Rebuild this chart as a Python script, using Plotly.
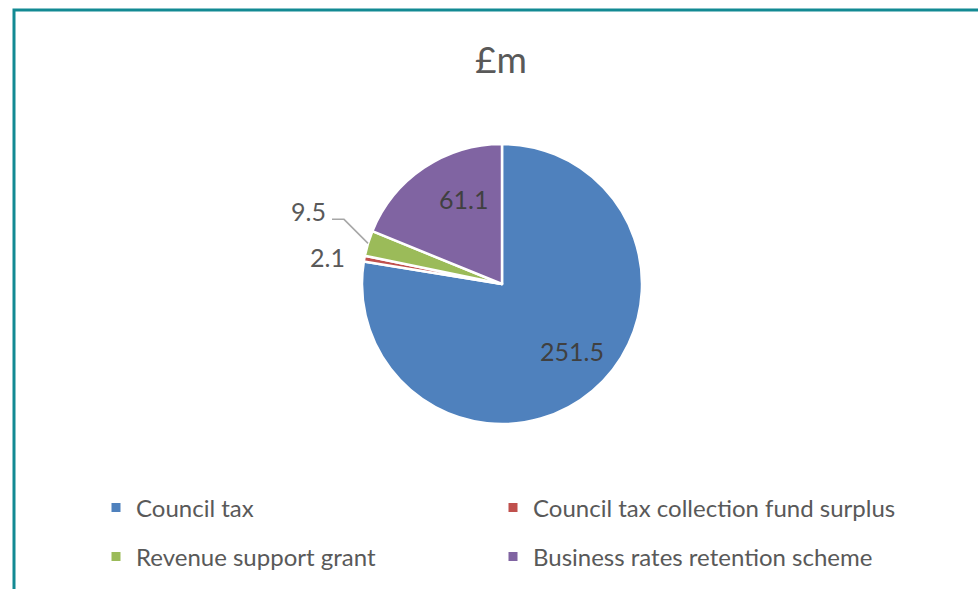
import math
import plotly.graph_objects as go

# Funding sources, £m
categories = [
    "Council tax",
    "Council tax collection fund surplus",
    "Revenue support grant",
    "Business rates retention scheme",
]
values = [251.5, 2.1, 9.5, 61.1]
labels = ["251.5", "2.1", "9.5", "61.1"]

colors = ["#4f81bd", "#c0504d", "#9bbb59", "#8064a2"]
TEXT = "#595959"
FONT = "Lato"

W, H = 978, 589
CX, CY, R = 502, 284, 140  # pie centre and radius in pixels


def to_paper(x, y):
    return x / W, 1 - y / H


def on_circle(angle_deg, r):
    a = math.radians(angle_deg)
    return CX + r * math.sin(a), CY - r * math.cos(a)


# mid angle of each slice, clockwise from 12 o'clock
total = sum(values)
mids = []
acc = 0.0
for v in values:
    mids.append((acc + v / 2) / total * 360)
    acc += v

x0, y1 = to_paper(CX - R, CY - R)
x1, y0 = to_paper(CX + R, CY + R)

fig = go.Figure()
fig.add_trace(go.Pie(
    labels=categories,
    values=values,
    sort=False,
    direction="clockwise",
    rotation=0,
    marker=dict(colors=colors, line=dict(color="white", width=2.5)),
    textinfo="none",
    hoverinfo="label+value",
    showlegend=False,
    domain=dict(x=[x0, x1], y=[y0, y1]),
))

annotations = []
shapes = []

# labels inside the two large slices
inside = {0: (0.68, 8, -6), 3: (0.66, 13, -8)}
for i, (frac, dx, dy) in inside.items():
    px, py = on_circle(mids[i], R * frac)
    ax, ay = to_paper(px + dx, py + dy)
    annotations.append(dict(x=ax, y=ay, xref="paper", yref="paper",
                            text=labels[i], showarrow=False,
                            font=dict(family=FONT, size=25, color="#404040"),
                            xanchor="center", yanchor="middle"))

# small slice: label to the left, no leader
px, py = on_circle(mids[1], R)
ax, ay = to_paper(px - 17, py - 2)
annotations.append(dict(x=ax, y=ay, xref="paper", yref="paper",
                        text=labels[1], showarrow=False,
                        font=dict(family=FONT, size=25, color=TEXT),
                        xanchor="right", yanchor="middle"))

# small slice: label with an elbow leader line
px, py = on_circle(mids[2], R)
ex, ey = px - 24, py - 24
lx = ex - 12
pts = [to_paper(px, py), to_paper(ex, ey), to_paper(lx, ey)]
path = "M {} {} L {} {} L {} {}".format(*[c for p in pts for c in p])
shapes.append(dict(type="path", path=path, xref="paper", yref="paper",
                   line=dict(color="#a6a6a6", width=1.5)))
ax, ay = to_paper(lx - 4, ey - 8)
annotations.append(dict(x=ax, y=ay, xref="paper", yref="paper",
                        text=labels[2], showarrow=False,
                        font=dict(family=FONT, size=25, color=TEXT),
                        xanchor="right", yanchor="middle"))

# chart frame
shapes.append(dict(type="rect", xref="paper", yref="paper",
                   x0=14 / W, x1=1.1, y0=-0.1, y1=1 - 10 / H,
                   line=dict(color="#138a93", width=3)))

# legend: one legend box per entry, laid out as a 2 x 2 grid
legend_ids = ["legend", "legend2", "legend3", "legend4"]
for name, col, lid in zip(categories, colors, legend_ids):
    fig.add_trace(go.Scatter(
        x=[None], y=[None], mode="markers", name=name,
        marker=dict(symbol="square", size=9, color=col),
        legend=lid, hoverinfo="skip",
    ))

legend_common = dict(
    orientation="h", xanchor="left", yanchor="middle",
    font=dict(family=FONT, size=24, color=TEXT),
    bgcolor="rgba(0,0,0,0)", itemclick=False, itemdoubleclick=False,
)
col_x = [(136 - 40) / W, (533 - 40) / W]
row_y = [1 - 508 / H, 1 - 557 / H]
grid = {"legend": (0, 0), "legend2": (1, 0), "legend3": (0, 1), "legend4": (1, 1)}
legends = {lid: dict(x=col_x[c], y=row_y[r], **legend_common)
           for lid, (c, r) in grid.items()}

fig.update_layout(
    width=W, height=H,
    margin=dict(l=0, r=0, t=0, b=0),
    paper_bgcolor="white", plot_bgcolor="white",
    title=dict(text="£m", x=501 / W, xanchor="center", y=1 - 60 / H,
               yanchor="middle", font=dict(family=FONT, size=37, color=TEXT)),
    xaxis=dict(visible=False), yaxis=dict(visible=False),
    annotations=annotations,
    shapes=shapes,
    **legends,
)

fig.write_html("out.html")
